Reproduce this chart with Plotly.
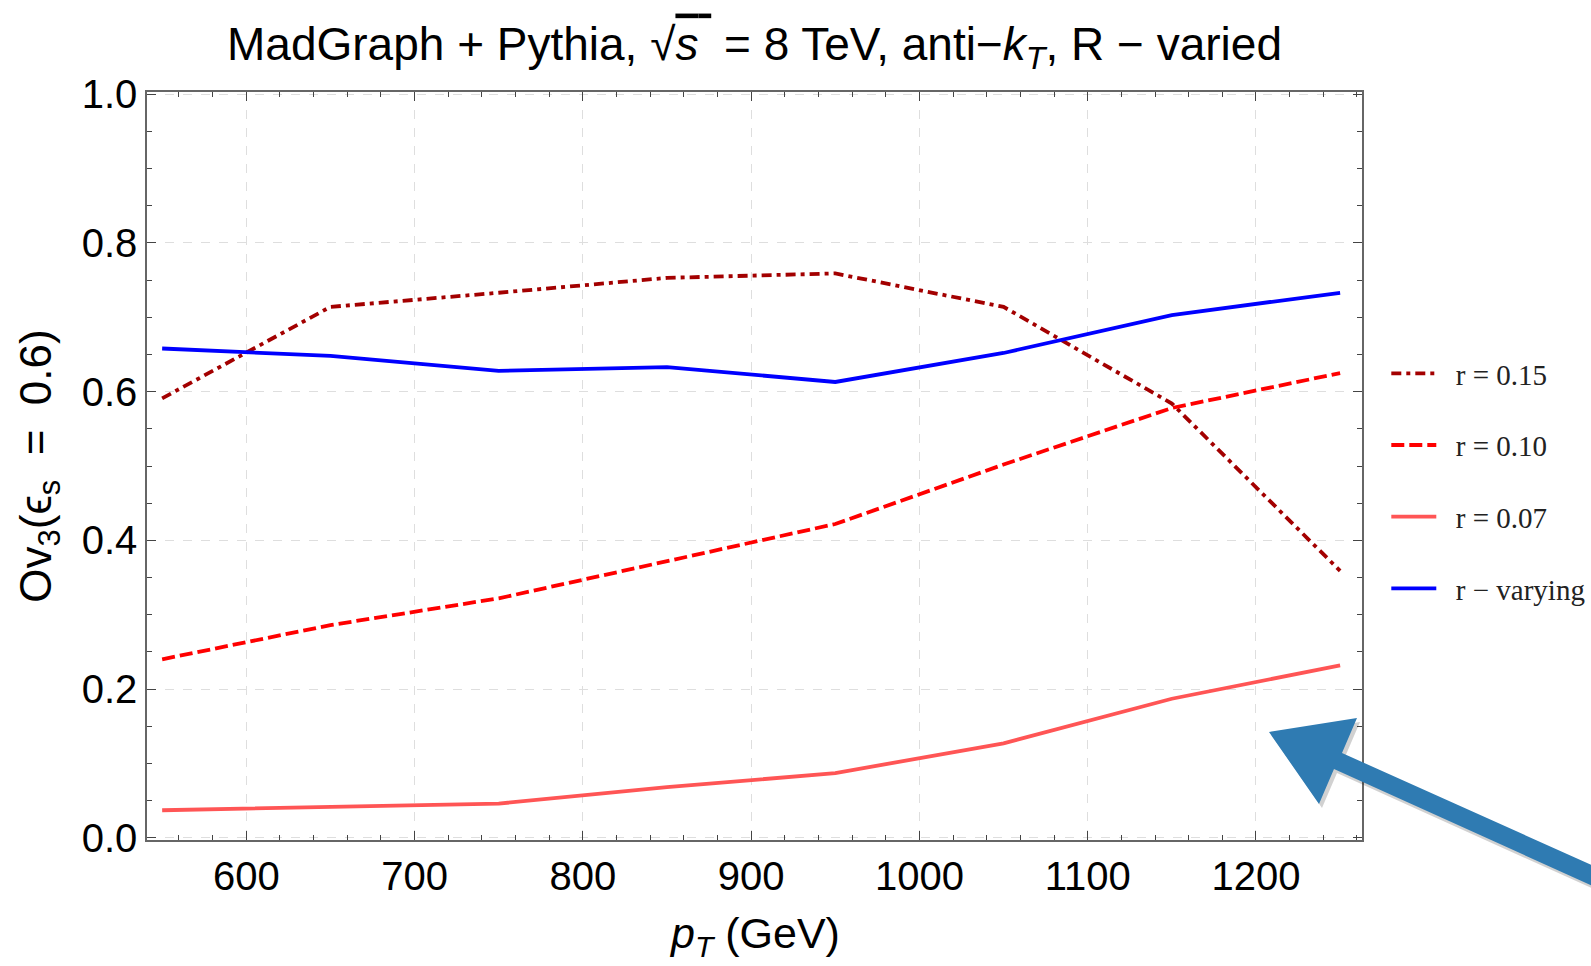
import plotly.graph_objects as go

pt = [550, 650, 750, 850, 950, 1050, 1150, 1250]
r015 = [0.591, 0.714, 0.733, 0.753, 0.759, 0.714, 0.584, 0.359]
r010 = [0.240, 0.286, 0.322, 0.372, 0.422, 0.502, 0.578, 0.625]
r007 = [0.037, 0.042, 0.046, 0.068, 0.087, 0.127, 0.187, 0.232]
rvar = [0.658, 0.648, 0.628, 0.633, 0.613, 0.652, 0.703, 0.733]

names = ["r = 0.15", "r = 0.10", "r = 0.07", "r \u2212 varying"]
colors = ["#a30000", "#ff0000", "#ff5555", "#0000ff"]
dashes = ["10px,5px,4px,5px", "13px,5px", "solid", "solid"]
series = [r015, r010, r007, rvar]

SANS = "Liberation Sans, Arial, sans-serif"

fig = go.Figure()
for i, (nm, ys, c, d) in enumerate(zip(names, series, colors, dashes)):
    fig.add_trace(go.Scatter(x=pt, y=ys, mode="lines", name="\u00a0\u00a0" + nm,
                             legendgroup=f"g{i}",
                             line=dict(color=c, width=3.8, dash=d)))

L, R, T, B = 147, 1362, 92, 840
W, H = 1591, 966

def px2paper(x, y):
    return (x - L) / (R - L), (B - y) / (B - T)

# arrow polygon in pixel coords
arrow_px = [(1269, 732), (1357, 718), (1342, 753), (1634, 884), (1626, 901), (1334, 769), (1319, 804)]

def path_from(pts, dx=0, dy=0):
    s = ""
    for k, (x, y) in enumerate(pts):
        px, py = px2paper(x + dx, y + dy)
        s += ("M" if k == 0 else "L") + f"{px:.5f},{py:.5f} "
    return s + "Z"

fig.add_shape(type="path", xref="paper", yref="paper", path=path_from(arrow_px, 3, 4),
              fillcolor="rgba(0,0,0,0.18)", line=dict(width=0), layer="above")
fig.add_shape(type="path", xref="paper", yref="paper", path=path_from(arrow_px),
              fillcolor="#2f7bb2", line=dict(width=0), layer="above")

axis_common = dict(
    showline=True, linecolor="#666", linewidth=1.5, mirror="allticks",
    ticks="inside", ticklen=9, tickwidth=1.2, tickcolor="#444",
    showgrid=True, gridcolor="#dedede", griddash="dash", gridwidth=1.2,
    zeroline=False, tickfont=dict(family=SANS, size=40, color="black"),
)

fig.update_xaxes(range=[541, 1263], tickvals=[600, 700, 800, 900, 1000, 1100, 1200],
                 minor=dict(dtick=20, tick0=0, ticks="inside", ticklen=5, tickcolor="#444", showgrid=False),
                 automargin=False, **axis_common)
fig.update_yaxes(range=[-0.003, 1.003], tickvals=[0, 0.2, 0.4, 0.6, 0.8, 1.0], tickformat=".1f",
                 minor=dict(dtick=0.05, tick0=0, ticks="inside", ticklen=5, tickcolor="#444", showgrid=False),
                 title=dict(text="Ov<sub>3</sub>(\u03f5<sub>s</sub>  =  0.6)",
                            font=dict(family=SANS, size=44, color="black"), standoff=16),
                 automargin=False, **axis_common)

xt_x, xt_y = px2paper(754, 936)
fig.add_annotation(text="<i>p</i><sub><i>T</i></sub> (GeV)", xref="paper", yref="paper",
                   x=xt_x, y=xt_y, xanchor="center", yanchor="middle", showarrow=False,
                   font=dict(family=SANS, size=43, color="black"))

fig.update_layout(
    width=W, height=H,
    margin=dict(l=L, r=W - R, t=T, b=H - B, autoexpand=False),
    plot_bgcolor="white", paper_bgcolor="white",
    title=dict(text="MadGraph + Pythia, \u221a<span style=\"text-decoration:overline\"><i>s</i> </span> = 8 TeV, anti\u2212<i>k</i><sub><i>T</i></sub>, R \u2212 varied",
               x=0.5, xref="paper", xanchor="center", y=0.955, yanchor="middle",
               font=dict(family=SANS, size=46, color="black")),
    legend=dict(x=1.02, xanchor="left", y=0.48, yanchor="middle",
                font=dict(family="Liberation Serif, Times New Roman, serif", size=29, color="#222"),
                tracegroupgap=31, bgcolor="rgba(0,0,0,0)", itemwidth=45),
    showlegend=True,
)

fig.write_html("out.html")
